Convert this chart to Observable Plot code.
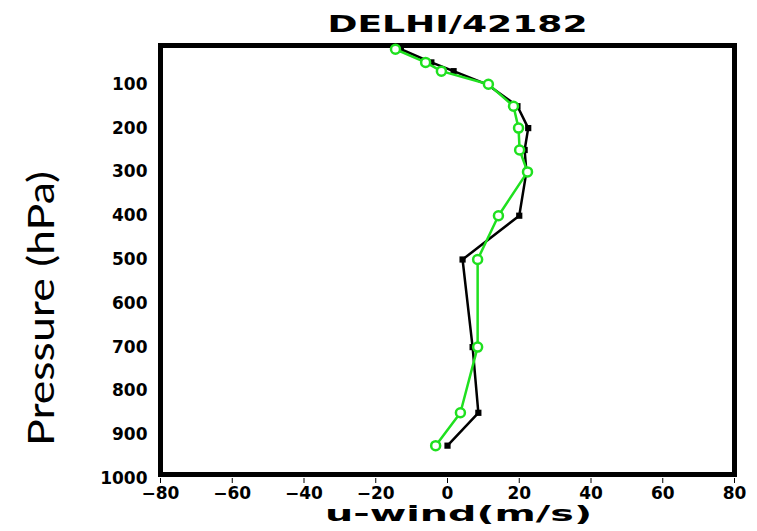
<!DOCTYPE html>
<html><head><meta charset="utf-8">
<script src="https://cdn.jsdelivr.net/npm/d3@7"></script>
<script src="https://cdn.jsdelivr.net/npm/@observablehq/plot@0.6"></script>
<style>html,body{margin:0;padding:0;background:#fff}</style>
</head><body><div id="chart"></div>
<script>
const title = "DELHI/42182";
const xLabel = "u-wind(m/s)";
const yLabel = "Pressure (hPa)";
const levels = [20, 50, 70, 100, 150, 200, 250, 300, 400, 500, 700, 850, 925];
const uGreen = [-14.5, -6.1, -1.7, 11.4, 18.4, 19.8, 20.1, 22.3, 14.2, 8.4, 8.4, 3.6, -3.3];
const uBlack = [-13, -4.5, 1.7, 11, 19.5, 22.5, 21.5, 22, 20, 4.2, 7, 8.6, 0];
const xTicks = [-80, -60, -40, -20, 0, 20, 40, 60, 80];
const yTicks = [100, 200, 300, 400, 500, 600, 700, 800, 900, 1000];

const green = levels.map((p, i) => ({p, u: uGreen[i]}));
const black = levels.map((p, i) => ({p, u: uBlack[i]}));
const G = "#1fe01f";

const chart = Plot.plot({
  width: 757, height: 531,
  marginLeft: 160, marginRight: 23, marginTop: 40, marginBottom: 53,
  style: {fontFamily: "DejaVu Sans", fontSize: "17px", fontWeight: "bold", background: "white", color: "black"},
  x: {domain: [-80, 80], ticks: xTicks, tickSize: 5, tickPadding: 3, label: null, tickFormat: "d"},
  y: {domain: [0, 1000], reverse: true, ticks: yTicks, tickSize: 0, tickPadding: 13, label: null, tickFormat: "d"},
  marks: [
    Plot.frame({stroke: "black", strokeWidth: 5, insetTop: 5, insetBottom: 4}),
    Plot.line(black, {x: "u", y: "p", stroke: "black", strokeWidth: 2.5}),
    Plot.dot(black, {x: "u", y: "p", symbol: "square", r: 3.5, fill: "black"}),
    Plot.line(green, {x: "u", y: "p", stroke: G, strokeWidth: 2.5}),
    Plot.dot(green, {x: "u", y: "p", r: 4.5, stroke: G, strokeWidth: 2.5, fill: "white"}),
    Plot.text([title], {frameAnchor: "top", dx: 10, dy: -16, lineAnchor: "middle", textAnchor: "middle", fontSize: 23, fontWeight: "bold"}),
    Plot.text([xLabel], {frameAnchor: "bottom", dx: 11, dy: 36, lineAnchor: "middle", textAnchor: "middle", fontSize: 21, fontWeight: "bold"}),
    Plot.text([yLabel], {frameAnchor: "left", dx: -118, dy: 49, rotate: -90, lineAnchor: "middle", textAnchor: "middle", fontSize: 36, fontWeight: "normal", fontFamily: "Lato"})
  ]
});
document.getElementById("chart").appendChild(chart);

const lengths = {[title]: 260, [xLabel]: 267, [yLabel]: 275};
d3.select(chart).selectAll("text").each(function() {
  const t = this.textContent;
  if (lengths[t]) {
    this.setAttribute("textLength", lengths[t]);
    this.setAttribute("lengthAdjust", "spacingAndGlyphs");
  }
});
</script>
</body></html>
